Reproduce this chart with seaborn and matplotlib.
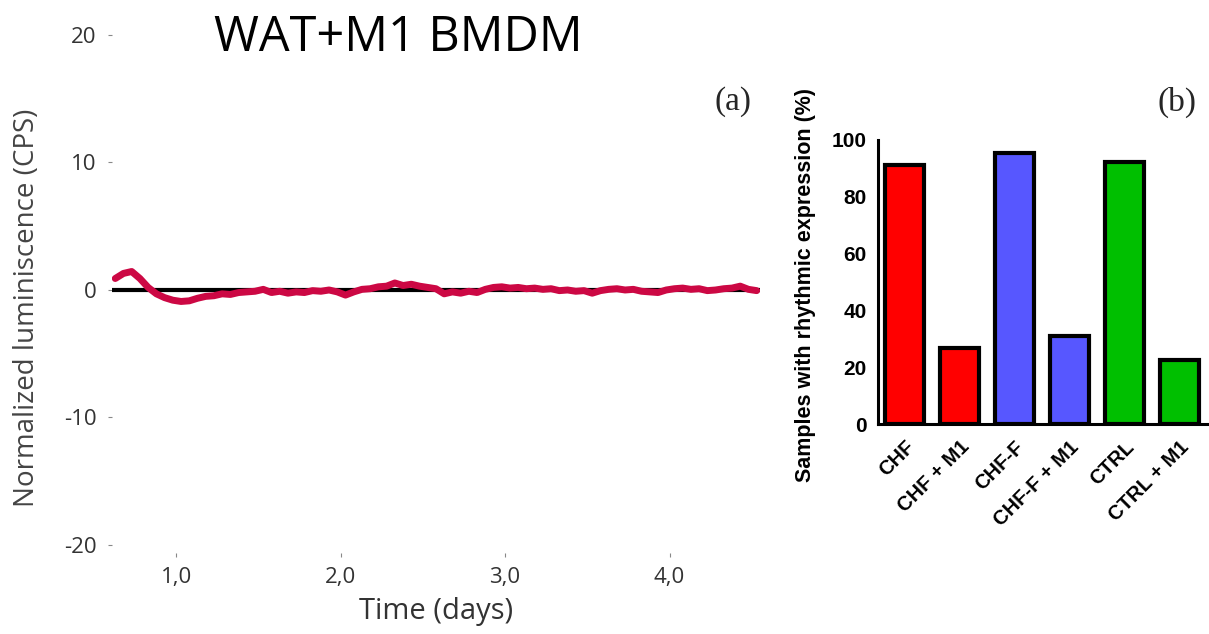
import numpy as np
import seaborn as sns
import matplotlib.pyplot as plt
import pandas as pd

sns.set_theme(style='white')
plt.rcParams['font.family'] = ['Open Sans', 'DejaVu Sans']
plt.rcParams['axes.unicode_minus'] = False

# panel (a) - luminescence trace
days = [0.63, 0.68, 0.73, 0.78, 0.83, 0.88, 0.93, 0.98, 1.03, 1.08,
        1.13, 1.18, 1.23, 1.28, 1.33, 1.38, 1.43, 1.48, 1.53, 1.58,
        1.63, 1.68, 1.73, 1.78, 1.83, 1.88, 1.93, 1.98, 2.03, 2.08,
        2.13, 2.18, 2.23, 2.28, 2.33, 2.38, 2.43, 2.48, 2.53, 2.58,
        2.63, 2.68, 2.73, 2.78, 2.83, 2.88, 2.93, 2.98, 3.03, 3.08,
        3.13, 3.18, 3.23, 3.28, 3.33, 3.38, 3.43, 3.48, 3.53, 3.58,
        3.63, 3.68, 3.73, 3.78, 3.83, 3.88, 3.93, 3.98, 4.03, 4.08,
        4.13, 4.18, 4.23, 4.28, 4.33, 4.38, 4.43, 4.48, 4.53]
lum = [0.9, 1.3, 1.45, 0.9, 0.2, -0.3, -0.6, -0.8, -0.9, -0.85,
       -0.65, -0.5, -0.45, -0.3, -0.35, -0.2, -0.15, -0.1, 0.05, -0.2,
       -0.1, -0.25, -0.15, -0.2, -0.05, -0.1, 0.0, -0.15, -0.4, -0.15,
       0.05, 0.1, 0.25, 0.3, 0.55, 0.35, 0.45, 0.3, 0.2, 0.1,
       -0.3, -0.15, -0.25, -0.1, -0.2, 0.05, 0.2, 0.25, 0.15, 0.2,
       0.1, 0.15, 0.05, 0.1, -0.05, 0.0, -0.1, -0.05, -0.25, -0.05,
       0.05, 0.1, 0.0, 0.05, -0.1, -0.15, -0.2, 0.0, 0.1, 0.15,
       0.05, 0.1, -0.05, 0.0, 0.1, 0.15, 0.3, 0.05, -0.05]
xticks_a = [1.0, 2.0, 3.0, 4.0]
xlabels_a = ["1,0", "2,0", "3,0", "4,0"]
yticks_a = [-20, -10, 0, 10, 20]

# panel (b) - percentages
groups = ["CHF", "CHF + M1", "CHF-F", "CHF-F + M1", "CTRL", "CTRL + M1"]
pct = [91.3, 26.8, 95.4, 31.0, 92.2, 22.5]
bar_colors = ["#FF0000", "#FF0000", "#5757FF", "#5757FF", "#00BF00", "#00BF00"]

fig = plt.figure(figsize=(12.09, 6.34), dpi=100)

# ---------------- (a)
ax = fig.add_axes([0.0926, 0.1404, 0.5360, 0.8044])
trace = pd.DataFrame({"day": days, "lum": lum})
ax.plot([0.61, 4.55], [0, 0], color='black', lw=3, zorder=1)
sns.lineplot(data=trace, x="day", y="lum", color="#CC0844", lw=5, ax=ax, zorder=2)
ax.set_xlim(0.61, 4.55)
ax.set_ylim(-20, 20)
for s in ax.spines.values():
    s.set_visible(False)
ax.spines['bottom'].set_position(('outward', 6))
ax.set_xticks(xticks_a)
ax.set_xticklabels(xlabels_a)
ax.set_yticks(yticks_a)
ax.tick_params(axis='both', labelsize=16, labelcolor='#333333', color='#888888',
               length=3, width=0.8, direction='out')
ax.tick_params(axis='x', bottom=True, pad=7)
ax.tick_params(axis='y', left=True, pad=8)
ax.set_xlabel("Time (days)", fontsize=21, color='#333333', labelpad=6)
ax.set_ylabel("")
fig.text(27 / 1209, 1 - 308 / 634, "Normalized luminiscence (CPS)", rotation=90,
         ha='center', va='center', fontsize=20, color='#444444')
fig.text(398 / 1209, 1 - 38 / 634, "WAT+M1 BMDM", ha='center', va='center',
         fontsize=35, color='black')
fig.text(733 / 1209, 1 - 102 / 634, "(a)", ha='center', va='center',
         fontsize=24, family='Liberation Serif')

# ---------------- (b)
bx = fig.add_axes([0.7262, 0.3307, 0.2738, 0.4485])
bars = pd.DataFrame({"group": groups, "pct": pct})
sns.barplot(data=bars, x="group", y="pct", hue="group", palette=bar_colors,
            legend=False, width=0.71, edgecolor='black', linewidth=3,
            saturation=1, ax=bx)
bx.set_xlim(-0.48, 5.54)
bx.set_ylim(0, 100)
bx.set_yticks([0, 20, 40, 60, 80, 100])
sns.despine(ax=bx)
for s in ['left', 'bottom']:
    bx.spines[s].set_linewidth(2.2)
    bx.spines[s].set_color('black')
bx.tick_params(axis='both', direction='out', length=6, width=2, color='black',
               labelsize=15, labelcolor='black')
bx.tick_params(axis='y', pad=2)
for lab in bx.get_yticklabels():
    lab.set_fontweight('bold')
    lab.set_family('Liberation Sans')
bx.set_xticks(range(len(groups)))
bx.set_xticklabels(groups, rotation=45, ha='right', rotation_mode='anchor',
                   fontsize=14.5, fontweight='bold', family='Liberation Sans',
                   color='black')
bx.set_xlabel("")
bx.set_ylabel("")
fig.text(805 / 1209, 1 - 285 / 634, "Samples with rhythmic expression (%)",
         rotation=90, ha='center', va='center', fontsize=15.5, fontweight='bold',
         family='Liberation Sans', color='black')
fig.text(1177 / 1209, 1 - 102 / 634, "(b)", ha='center', va='center',
         fontsize=24, family='Liberation Serif')

plt.savefig("out.png", dpi=100)
